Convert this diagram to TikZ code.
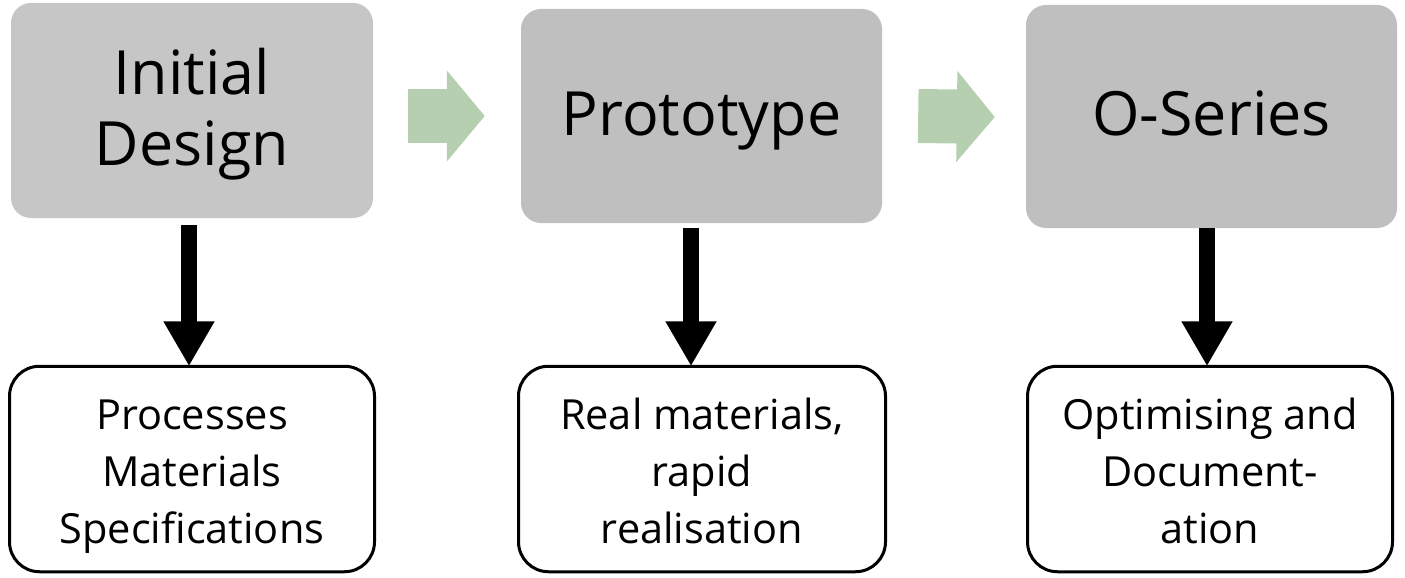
\documentclass[tikz,border=0pt]{standalone}
\usepackage{fontspec}
\setmainfont{Open Sans}
\usetikzlibrary{arrows.meta}
\definecolor{gbox}{HTML}{BFBFBF}
\definecolor{gboxa}{HTML}{C6C6C6}
\definecolor{garrow}{HTML}{B5CFB0}
\newcommand\bigstr{\rule[-15pt]{0pt}{68pt}}
\newcommand\smallstr{\rule[-10pt]{0pt}{54pt}}
\tikzset{
  stagebox/.style={rectangle, rounded corners=20pt, fill=gbox, draw=none, inner sep=0pt, align=center,
    font={\fontsize{61}{71}\selectfont}},
  notebox/.style={rectangle, rounded corners=30pt, draw=black, line width=3pt, fill=white, inner sep=0pt,
    align=center, minimum height=205.5pt, font={\fontsize{41.5}{57}\selectfont}},
  downarrow/.style={line width=16pt, -{Triangle[width=48pt,length=45pt]}},
  nextarrow/.style={draw=garrow, line width=54pt, -{Triangle[width=89pt,length=38pt]}}
}
\begin{document}
\begin{tikzpicture}[x=1pt,y=-1pt]
\useasboundingbox (0,0) rectangle (1405,578);
\node[stagebox, fill=gboxa, minimum width=362pt, minimum height=215pt] (g1) at (192,110.5) {\bigstr Initial\\\bigstr Design};
\node[stagebox, minimum width=361pt, minimum height=214pt] (g2) at (701.5,116) {\bigstr Prototype};
\node[stagebox, minimum width=371pt, minimum height=223pt] (g3) at (1211.5,116.5) {\bigstr O-Series};
\node[notebox, minimum width=365pt] (w1) at (192,469) {\smallstr Processes\\\smallstr Materials\\\smallstr Specifications};
\node[notebox, minimum width=367pt] (w2) at (702,469) {\smallstr Real materials,\\\smallstr rapid\\\smallstr realisation};
\node[notebox, minimum width=365pt] (w3) at (1210,469) {\smallstr Optimising and\\\smallstr Document-\\\smallstr ation};
\draw[downarrow] ([xshift=-3pt,yshift=-7pt]g1.south) -- ([xshift=-3pt,yshift=-1.5pt]w1.north);
\draw[downarrow] ([xshift=-10.5pt,yshift=-5pt]g2.south) -- ([xshift=-11pt,yshift=-1.5pt]w2.north);
\draw[downarrow] ([xshift=-4.5pt,yshift=0pt]g3.south) -- ([xshift=-3pt,yshift=-1.5pt]w3.north);
\draw[nextarrow] ([xshift=35pt,yshift=-5.5pt]g1.east) -- ([xshift=-36pt]g2.west);
\draw[nextarrow] ([xshift=36pt]g2.east) -- ([xshift=-31pt,yshift=-0.5pt]g3.west);
\end{tikzpicture}
\end{document}
